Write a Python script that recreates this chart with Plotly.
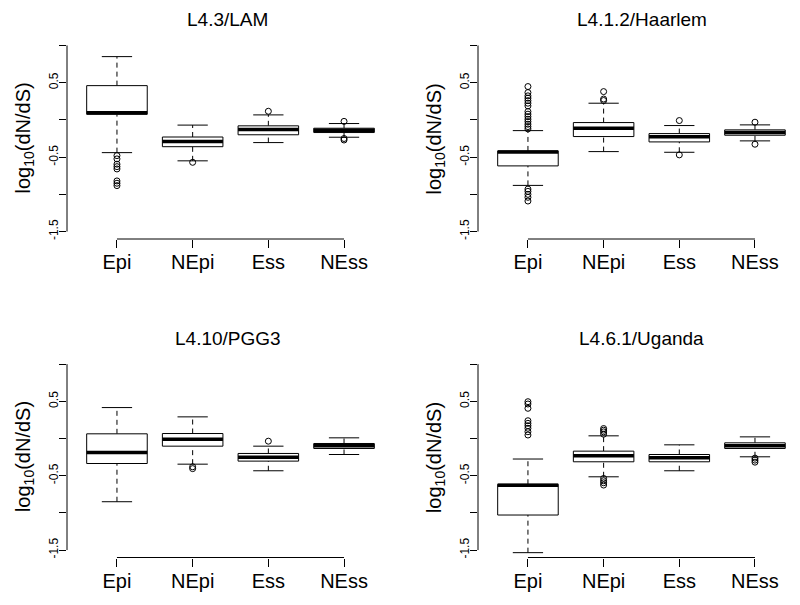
import plotly.graph_objects as go

# ---------------- data ----------------
categories = ["Epi", "NEpi", "Ess", "NEss"]
positions = [1, 2, 3, 4]
panel_titles = ["L4.3/LAM", "L4.1.2/Haarlem", "L4.10/PGG3", "L4.6.1/Uganda"]
y_label_vals = [0.5, -0.5, -1.5]
y_label_text = ["0.5", "-0.5", "-1.5"]
y_minor_vals = [1.0, 0.0, -1.0]

# L4.3/LAM
lam_lo = [-0.44, -0.55, -0.305, -0.233]
lam_q1 = [0.075, -0.36, -0.20, -0.17]
lam_med = [0.095, -0.29, -0.13, -0.139]
lam_q3 = [0.46, -0.23, -0.08, -0.112]
lam_hi = [0.85, -0.07, 0.067, -0.049]
lam_out = [[-0.48, -0.524, -0.595, -0.628, -0.659, -0.82, -0.851, -0.883],
           [-0.57], [0.116], [-0.02, -0.25, -0.27]]

# L4.1.2/Haarlem
haa_lo = [-0.88, -0.426, -0.435, -0.282]
haa_q1 = [-0.618, -0.224, -0.296, -0.206]
haa_med = [-0.432, -0.112, -0.228, -0.17]
haa_q3 = [-0.417, -0.036, -0.184, -0.134]
haa_hi = [-0.144, 0.224, -0.076, -0.067]
haa_out = [[0.448, 0.367, 0.323, 0.292, 0.259, 0.224, 0.188, 0.112, 0.077, 0.044,
            0.009, -0.023, -0.058, -0.090, -0.121, -0.93, -0.96, -1.0, -1.04, -1.09],
           [0.26, 0.28, 0.38], [-0.009, -0.47], [-0.031, -0.327]]

# L4.10/PGG3
pgg_lo = [-0.85, -0.345, -0.434, -0.215]
pgg_q1 = [-0.336, -0.103, -0.304, -0.134]
pgg_med = [-0.188, -0.009, -0.251, -0.098]
pgg_q3 = [0.063, 0.067, -0.201, -0.067]
pgg_hi = [0.416, 0.291, -0.103, 0.009]
pgg_out = [[], [-0.38, -0.405], [-0.036], []]

# L4.6.1/Uganda
uga_lo = [-1.535, -0.515, -0.434, -0.246]
uga_q1 = [-1.029, -0.313, -0.313, -0.134]
uga_med = [-0.628, -0.233, -0.26, -0.098]
uga_q3 = [-0.615, -0.17, -0.215, -0.058]
uga_hi = [-0.276, 0.036, -0.085, 0.022]
uga_out = [[0.495, 0.464, 0.406, 0.239, 0.204, 0.172, 0.137, 0.091, 0.047],
           [0.134, 0.112, 0.089, 0.058, -0.537, -0.568, -0.595, -0.626],
           [], [-0.264, -0.291, -0.318]]

panels = [
    (lam_lo, lam_q1, lam_med, lam_q3, lam_hi, lam_out),
    (haa_lo, haa_q1, haa_med, haa_q3, haa_hi, haa_out),
    (pgg_lo, pgg_q1, pgg_med, pgg_q3, pgg_hi, pgg_out),
    (uga_lo, uga_q1, uga_med, uga_q3, uga_hi, uga_out),
]

# ---------------- layout geometry ----------------
W, H = 800, 605
FONT = "Liberation Sans, Arial, Helvetica, sans-serif"
BOXW = 0.4      # half box width
STAPLE = 0.2    # half staple width

xdoms = [[67 / W, 394 / W], [478 / W, 1.0], [67 / W, 394 / W], [478 / W, 1.0]]
ydom_top = [1 - 239 / H, 1 - 38 / H]
ydom_bot = [1 - 557.5 / H, 1 - 356.7 / H]
ydoms = [ydom_top, ydom_top, ydom_bot, ydom_bot]
xranges = [[0.34, 4.66], [0.34, 4.595], [0.34, 4.66], [0.34, 4.595]]
title_x = [228 / W, 641.5 / W, 228 / W, 641.5 / W]
title_y = [1 - 19.5 / H, 1 - 19.5 / H, 1 - 338 / H, 1 - 338 / H]
ytitle_x = [24 / W, 435 / W, 24 / W, 435 / W]

fig = go.Figure()
annotations = []
shapes = []

for i, (lo, q1, med, q3, hi, out) in enumerate(panels):
    s = "" if i == 0 else str(i + 1)
    xa, ya = "x" + s, "y" + s

    wx, wy, bx, by, mx, my, sx, sy, ox, oy = [], [], [], [], [], [], [], [], [], []
    for j, p in enumerate(positions):
        wx += [p, p, None, p, p, None]
        wy += [q3[j], hi[j], None, lo[j], q1[j], None]
        sx += [p - STAPLE, p + STAPLE, None, p - STAPLE, p + STAPLE, None]
        sy += [hi[j], hi[j], None, lo[j], lo[j], None]
        bx += [p - BOXW, p + BOXW, p + BOXW, p - BOXW, p - BOXW, None]
        by += [q1[j], q1[j], q3[j], q3[j], q1[j], None]
        mx += [p - BOXW, p + BOXW, None]
        my += [med[j], med[j], None]
        ox += [p] * len(out[j])
        oy += list(out[j])

    common = dict(xaxis=xa, yaxis=ya, showlegend=False, hoverinfo="skip")
    fig.add_trace(go.Scatter(x=wx, y=wy, mode="lines",
                             line=dict(color="black", width=1, dash="5px,4px"), **common))
    fig.add_trace(go.Scatter(x=sx, y=sy, mode="lines",
                             line=dict(color="black", width=1), **common))
    fig.add_trace(go.Scatter(x=bx, y=by, mode="lines", fill="toself", fillcolor="white",
                             line=dict(color="black", width=1), **common))
    fig.add_trace(go.Scatter(x=mx, y=my, mode="lines",
                             line=dict(color="black", width=3.5), **common))
    fig.add_trace(go.Scatter(x=ox, y=oy, mode="markers",
                             marker=dict(symbol="circle-open", size=6,
                                         color="black", line=dict(width=1)), **common))

    fig.layout["xaxis" + s] = dict(
        domain=xdoms[i], range=xranges[i], anchor=ya,
        tickmode="array", tickvals=positions, ticktext=categories,
        ticks="outside", ticklen=8, tickwidth=1, tickcolor="black",
        ticklabelstandoff=-3,
        showline=False, showgrid=False, zeroline=False, automargin=False,
        tickfont=dict(family=FONT, size=20, color="black"),
    )
    fig.layout["yaxis" + s] = dict(
        domain=ydoms[i], range=[-1.6, 1.1], anchor=xa,
        tickmode="array", tickvals=y_label_vals, ticktext=y_label_text,
        tickangle=-90, ticks="outside", ticklen=7, tickwidth=1, tickcolor="black",
        ticklabelstandoff=-4,
        minor=dict(tickmode="array", tickvals=y_minor_vals, ticks="outside",
                   ticklen=7, tickwidth=1, tickcolor="black", showgrid=False),
        showline=False, showgrid=False, zeroline=False, automargin=False,
        tickfont=dict(family=FONT, size=12, color="black"),
    )
    # R-style axis lines spanning first to last tick
    shapes.append(dict(type="line", xref=xa, yref=ya + " domain",
                       x0=positions[0], x1=positions[-1], y0=0, y1=0,
                       line=dict(color="black", width=1)))
    shapes.append(dict(type="line", xref=xa + " domain", yref=ya,
                       x0=0, x1=0, y0=min(y_label_vals), y1=max(y_minor_vals),
                       line=dict(color="black", width=1)))

    annotations.append(dict(text=panel_titles[i], xref="paper", yref="paper",
                            x=title_x[i], y=title_y[i], xanchor="center", yanchor="middle",
                            showarrow=False, font=dict(family=FONT, size=19, color="black")))
    annotations.append(dict(text="log<sub>10</sub>(dN/dS)", xref="paper", yref="paper",
                            x=ytitle_x[i], y=sum(ydoms[i]) / 2, textangle=-90,
                            xanchor="center", yanchor="middle", showarrow=False,
                            font=dict(family=FONT, size=20, color="black")))

fig.update_layout(
    width=W, height=H,
    margin=dict(l=0, r=0, t=0, b=0),
    paper_bgcolor="white", plot_bgcolor="white",
    annotations=annotations, shapes=shapes,
    font=dict(family=FONT, color="black"),
)

fig.write_html("out.html", config={"displayModeBar": False},
               post_script="document.body.style.margin='0';document.body.style.overflow='hidden';")
